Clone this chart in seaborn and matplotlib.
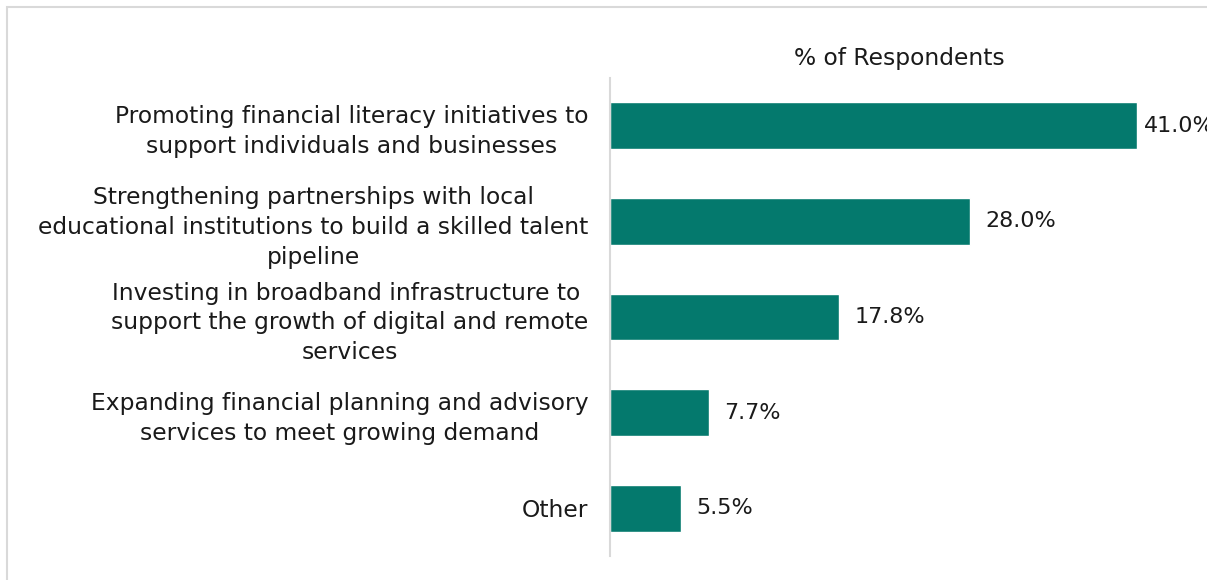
import seaborn as sns
import matplotlib.pyplot as plt
import matplotlib.patches as mpatches
import pandas as pd

# data
categories = [
    "Promoting financial literacy initiatives to\nsupport individuals and businesses",
    "Strengthening partnerships with local\neducational institutions to build a skilled talent\npipeline",
    "Investing in broadband infrastructure to \nsupport the growth of digital and remote\nservices",
    "Expanding financial planning and advisory\nservices to meet growing demand",
    "Other",
]
values = [41.0, 28.0, 17.8, 7.7, 5.5]
value_labels = ["41.0%", "28.0%", "17.8%", "7.7%", "5.5%"]

df = pd.DataFrame({"Category": categories, "Pct": values})

sns.set_style("white")
plt.rcParams['font.family'] = ['DejaVu Sans']
text_color = "#1a1a1a"
fs = 16.8

fig = plt.figure(figsize=(12.07, 5.8), dpi=100)
ax = fig.add_axes([610.4 / 1207, 1 - 556 / 580, 1 - 610.4 / 1207, (556 - 78) / 580])

sns.barplot(data=df, y="Category", x="Pct", orient="h", color="#04796D",
            width=0.49, saturation=1, ax=ax)

# the longest bar's label sits closer to the bar so it fits in the frame
first = [value_labels[0]] + [""] * (len(value_labels) - 1)
rest = [""] + value_labels[1:]
ax.bar_label(ax.containers[0], labels=first, padding=5, fontsize=16, color=text_color)
ax.bar_label(ax.containers[0], labels=rest, padding=11, fontsize=16, color=text_color)

ax.set_xlim(0, 46.45)
ax.set_ylim(4.5, -0.5)
ax.set_xlabel("")
ax.set_ylabel("")
ax.set_xticks([])
ax.tick_params(axis="y", length=0, pad=16, labelsize=fs, labelcolor=text_color)
for lbl in ax.get_yticklabels():
    lbl.set_multialignment("center")
    lbl.set_linespacing(1.38)

for side in ["top", "right", "bottom"]:
    ax.spines[side].set_visible(False)
ax.spines["left"].set_color("#D9D9D9")
ax.spines["left"].set_linewidth(1.5)

fig.text(899 / 1207, 1 - 58 / 580, "% of Respondents", ha="center", va="center",
         fontsize=fs, color=text_color)

# light grey frame around the chart area
fig.patches.append(mpatches.Rectangle((7 / 1207, -0.1), 1.2, 1 - 7 / 580 + 0.1,
                                      transform=fig.transFigure, fill=False,
                                      edgecolor="#D9D9D9", linewidth=1.5))

plt.savefig("out.png", dpi=100)
